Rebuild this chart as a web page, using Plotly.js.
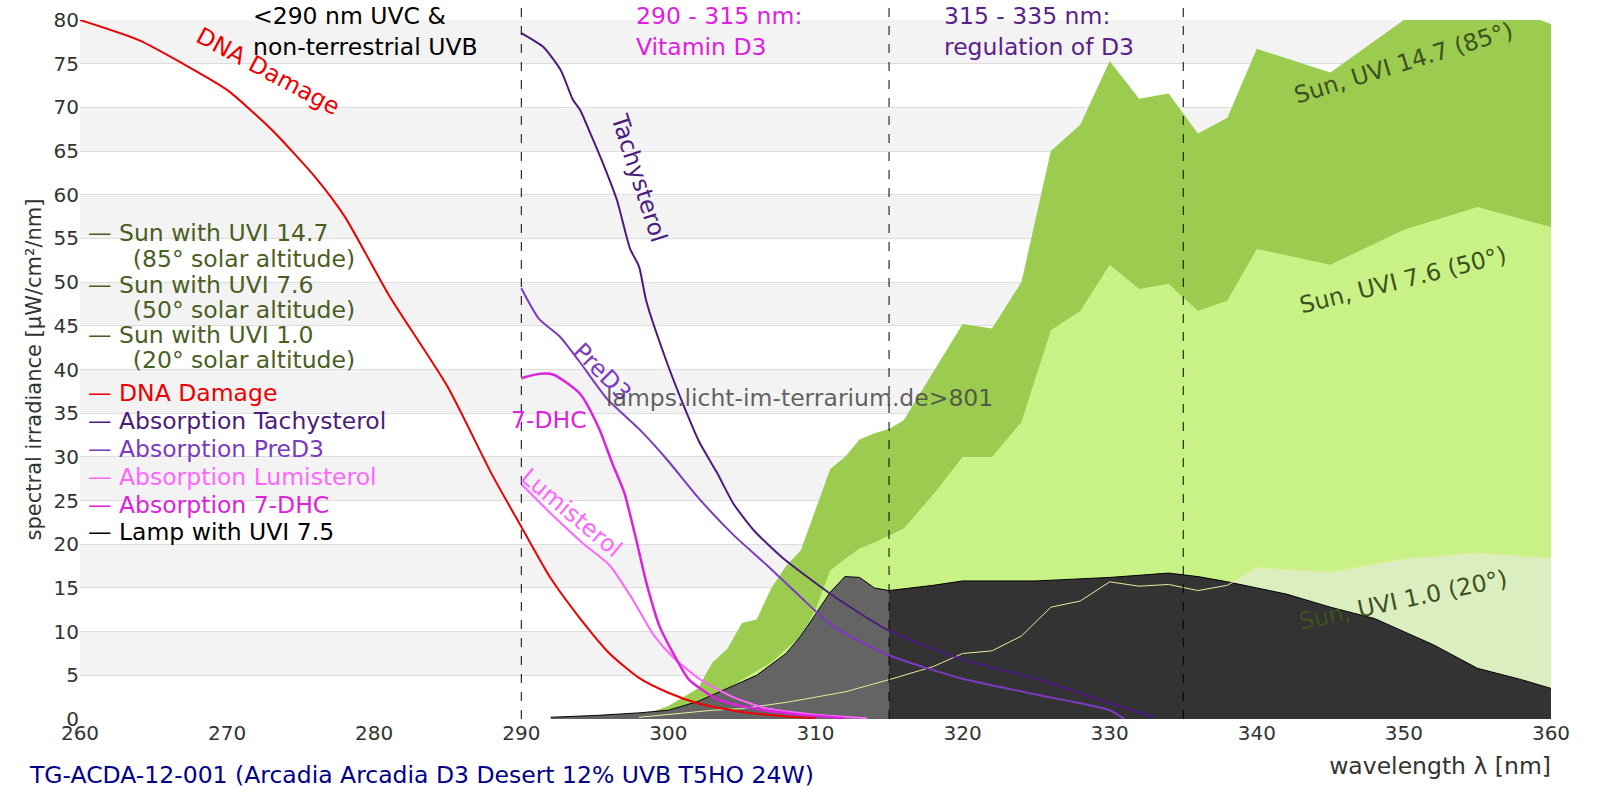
<!DOCTYPE html>
<html>
<head>
<meta charset="utf-8">
<script src="https://cdn.plot.ly/plotly-3.0.1.min.js"></script>
<style>body{margin:0}#chart{width:1600px;height:800px}</style>
</head>
<body>
<div id="chart"></div>
<script>
// sun spectra
const sunHighX = [298, 300, 301, 302, 303, 304, 305, 306, 307, 308, 309, 310, 311, 312, 313, 314, 315, 316, 318, 320, 322, 324, 326, 328, 330, 332, 334, 336, 338, 340, 345, 350, 355, 360];
const sunHighY = [0.3, 1.5, 2.5, 3.5, 6.5, 8, 11, 11.4, 15, 17.5, 19.3, 24, 28.6, 30, 32, 32.7, 33.2, 34.2, 39.7, 45.2, 44.7, 50, 65, 68, 75.3, 71, 71.6, 67, 68.8, 76.7, 74, 80, 83, 79.5];
const sunMidX = [300, 302, 304, 305, 306, 307, 308, 309, 310, 311, 312, 313, 314, 316, 318, 320, 322, 324, 326, 328, 330, 332, 334, 336, 338, 340, 345, 350, 355, 360];
const sunMidY = [0.3, 2, 3.5, 4.5, 5.5, 6.5, 8, 9.5, 12.5, 17, 18.3, 19.5, 20.2, 21.8, 25.7, 30, 30, 34, 44.5, 46.7, 52, 49.2, 49.8, 46.7, 47.9, 53.8, 52, 56, 58.6, 56.3];
const sunLowX = [298, 300, 303, 305, 308, 310, 312, 315, 318, 320, 322, 324, 326, 328, 330, 332, 334, 336, 338, 340, 345, 350, 355, 360];
const sunLowY = [0.2, 0.5, 1.0, 1.2, 1.9, 2.5, 3.1, 4.5, 6, 7.5, 7.8, 9.5, 12.8, 13.5, 15.7, 15.2, 15.4, 14.7, 15.3, 17.3, 16.8, 18.3, 19, 18.4];
// lamp
const lampX = [292, 295, 298, 300, 302, 304, 306, 308, 309, 310, 311, 312, 313, 314, 315, 318, 320, 325, 330, 334, 336, 338, 340, 342, 345, 348, 350, 352, 355, 358, 360];
const lampY = [0.2, 0.4, 0.7, 1, 2, 3.5, 5, 7.5, 9.5, 12, 14.5, 16.3, 16.2, 15, 14.7, 15.3, 15.8, 15.8, 16.2, 16.7, 16.3, 15.7, 15, 14.3, 12.8, 11.5, 10, 8.5, 5.8, 4.5, 3.5];
// action spectra
const dnaX = [260, 264, 267, 270, 273, 276, 278, 281, 285, 288, 290, 292, 294, 296, 298, 300, 302, 305, 308, 310];
const dnaY = [80, 77.7, 75, 72, 67.5, 62, 57.5, 48.5, 38, 28, 22, 16.1, 11.5, 7.5, 4.7, 3, 1.8, 0.8, 0.3, 0.1];
const tachyX = [290, 291.5, 292.7, 293.5, 294, 294.6, 295.6, 296.5, 297.4, 298, 298.5, 299.9, 301.2, 302.1, 303.3, 304.4, 305.8, 307.8, 311.2, 315, 320, 325, 330, 333];
const tachyY = [78.5, 76.9, 74.2, 70.9, 69.7, 67.4, 63.4, 59.4, 53.8, 51.8, 47.8, 40.8, 35.2, 31.7, 28.2, 24.7, 21.6, 18.4, 14.1, 10.1, 6.8, 4.6, 1.8, 0.2];
const predX = [290, 291.2, 292.6, 294, 295.8, 298, 299.9, 302.1, 304.4, 306.7, 308.9, 311.2, 315, 320, 325, 330, 331];
const predY = [49.3, 45.8, 43.8, 40.8, 36.7, 33.2, 29.7, 25.2, 21.1, 17.6, 14.1, 10.6, 7.3, 4.6, 2.8, 1.0, 0];
const dhcX = [290, 291.2, 292.2, 294, 295.3, 296.2, 297, 297.8, 298.5, 299.4, 300.3, 301.4, 303.3, 305.5, 308.9, 312];
const dhcY = [39, 39.5, 39.4, 37.2, 33.2, 29.2, 25.9, 20.6, 15.6, 10.6, 7.6, 4.5, 2.3, 1.3, 0.5, 0.1];
const lumiX = [290, 291.9, 294.2, 296, 297.6, 299, 300.3, 302.1, 304.4, 306.7, 310, 313.5];
const lumiY = [26.9, 23.7, 20.1, 17.6, 13.6, 9.6, 7.1, 4.6, 2.5, 1.2, 0.5, 0.1];

const lampLeftX = lampX.filter(x => x <= 315);
const lampLeftY = lampY.slice(0, lampLeftX.length);
const lampRightX = lampX.filter(x => x >= 315);
const lampRightY = lampY.slice(lampX.length - lampRightX.length);

const fillTrace = (x, y, fill, line, w) => ({
    x, y, type: 'scatter', mode: 'lines', fill: 'tozeroy', fillcolor: fill,
    line: { color: line, width: w }, hoverinfo: 'skip', cliponaxis: false
});
const lineTrace = (x, y, color, w, shape) => ({
    x, y, type: 'scatter', mode: 'lines', line: { color, width: w, shape: shape || 'spline', smoothing: 0.6 }, hoverinfo: 'skip'
});

const traces = [
    fillTrace(sunHighX, sunHighY, '#9bcb4f', 'rgba(0,0,0,0)', 0),
    fillTrace(sunMidX, sunMidY, '#c8f286', 'rgba(0,0,0,0)', 0),
    fillTrace(sunLowX, sunLowY, '#daeec0', 'rgba(0,0,0,0)', 0),
    fillTrace(lampLeftX, lampLeftY, '#646464', '#000', 1),
    fillTrace(lampRightX, lampRightY, '#333333', '#000', 1),
    lineTrace(sunLowX, sunLowY, '#e4eca0', 1, 'linear'),
    lineTrace(dnaX, dnaY, '#ee0000', 2),
    lineTrace(tachyX, tachyY, '#4b1c7d', 2),
    lineTrace(predX, predY, '#7b3bc0', 2),
    lineTrace(lumiX, lumiY, '#ff66ff', 2),
    lineTrace(dhcX, dhcY, '#dd22dd', 2.5)
];

const shapes = [];
for (let v = 5; v < 80; v += 10) {
    shapes.push({ type: 'rect', xref: 'paper', yref: 'y', x0: 0, x1: 1, y0: v, y1: v + 5,
        fillcolor: '#f3f3f3', line: { width: 0 }, layer: 'below' });
}
[290, 315, 335].forEach(x => shapes.push({ type: 'line', xref: 'x', yref: 'paper', x0: x, x1: x, y0: 0, y1: 1.03,
    line: { color: '#000', width: 1, dash: 'dash' } }));

// label positions (display pixels -> data)
const px = p => 260 + (p - 78) / 14.42;
const py = p => (705 - p) / 8.5625;
const fs = 23.5;
const note = (x, y, text, color, size, angle, anchor) => ({
    x: px(x), y: py(y), xref: 'x', yref: 'y', text, showarrow: false,
    font: { color, size: size || fs }, textangle: angle || 0, xanchor: anchor || 'center', align: 'left'
});

const sunColor = '#4a5e23';
const indent = '&nbsp;&nbsp;&nbsp;&nbsp;&nbsp;&nbsp;';
const legendItems = [
    ['— Sun with UVI 14.7', sunColor, 229], [indent + '(85° solar altitude)', sunColor, 254],
    ['— Sun with UVI 7.6', sunColor, 280], [indent + '(50° solar altitude)', sunColor, 304],
    ['— Sun with UVI 1.0', sunColor, 329], [indent + '(20° solar altitude)', sunColor, 353],
    ['— DNA Damage', '#ee0000', 386], ['— Absorption Tachysterol', '#4b1c7d', 413],
    ['— Absorption PreD3', '#7b3bc0', 440], ['— Absorption Lumisterol', '#ff66ff', 468],
    ['— Absorption 7-DHC', '#dd22dd', 495], ['— Lamp with UVI 7.5', '#000', 522]
];

const annotations = legendItems.map(([t, c, y]) => note(84, y, t, c, fs, 0, 'left'));
annotations.push(
    note(246, 31, '<290 nm UVC &<br>non-terrestrial UVB', '#000', fs, 0, 'left'),
    note(621, 31, '290 - 315 nm:<br>Vitamin D3', '#e020e0', fs, 0, 'left'),
    note(923, 31, '315 - 335 nm:<br>regulation of D3', '#5b1f8a', fs, 0, 'left'),
    note(262, 70, 'DNA Damage', '#ee0000', fs, 28),
    note(626, 175, 'Tachysterol', '#4b1c7d', fs, 72),
    note(590, 365, 'PreD3', '#7b3bc0', fs, 45),
    note(538, 412, '7-DHC', '#dd22dd', fs, 0),
    note(560, 503, 'Lumisterol', '#ff66ff', fs, 40),
    note(1375, 62, 'Sun, UVI 14.7 (85°)', '#3d5020', fs, -17),
    note(1375, 275, 'Sun, UVI 7.6 (50°)', '#3d5020', fs, -14),
    note(1375, 588, 'Sun, UVI 1.0 (20°)', '#3d5020', fs, -12),
    note(783, 390, 'lamps.licht-im-terrarium.de>801', 'rgba(70,70,70,0.85)', fs, 0),
    { x: -0.036, y: -0.08, xref: 'paper', yref: 'paper', yanchor: 'middle', xanchor: 'left', showarrow: false,
      text: 'TG-ACDA-12-001 (Arcadia Arcadia D3 Desert 12% UVB T5HO 24W)', font: { color: '#00008b', size: fs } }
);

const layout = {
    width: 1600, height: 800,
    margin: { l: 80, r: 49, t: 20, b: 81 },
    paper_bgcolor: '#fff', plot_bgcolor: '#fff',
    showlegend: false,
    font: { family: 'DejaVu Sans', size: 20, color: '#333' },
    xaxis: {
        range: [260, 360], tickvals: [260, 270, 280, 290, 300, 310, 320, 330, 340, 350, 360],
        showgrid: false, zeroline: false, ticks: '', tickfont: { size: 20, color: '#333' },
        title: { text: 'wavelength λ [nm]', font: { size: fs, color: '#333' }, standoff: 0 }
    },
    yaxis: {
        range: [0, 80], dtick: 5, showgrid: true, gridcolor: '#dddddd', zeroline: false, ticks: '',
        tickfont: { size: 20, color: '#333' },
        title: { text: 'spectral irradiance [µW/cm²/nm]', font: { size: 21, color: '#333' }, standoff: 6 }
    },
    shapes, annotations
};

Plotly.newPlot('chart', traces, layout, { staticPlot: true });

// x-axis title sits at the right end in the reference
const xt = document.querySelector('.xtitle');
if (xt) { xt.setAttribute('x', 1551); xt.setAttribute('text-anchor', 'end'); xt.setAttribute('y', 768); }
</script>
</body>
</html>
